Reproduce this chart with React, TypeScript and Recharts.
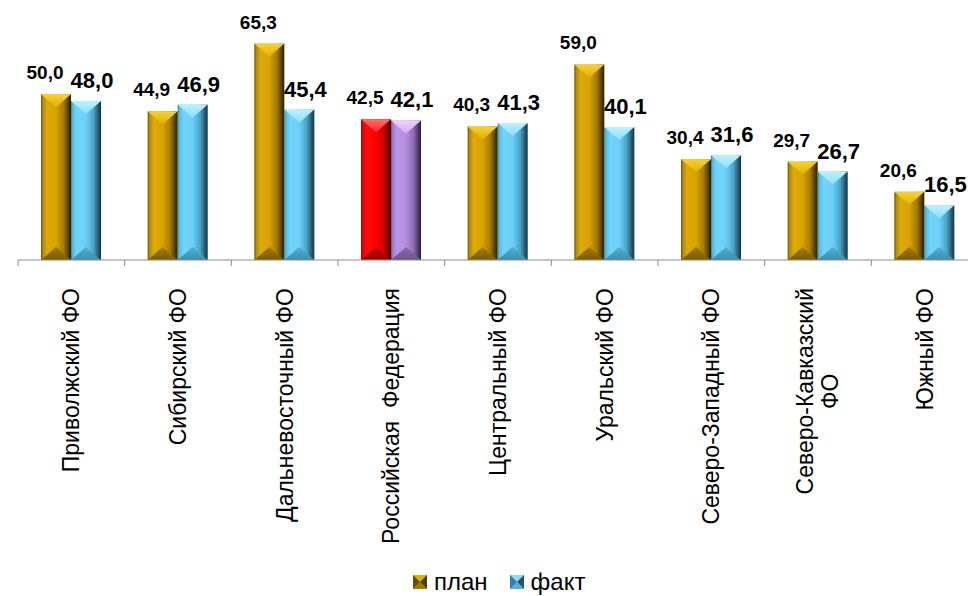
import React from 'react';
import { BarChart, Bar, XAxis, YAxis, LabelList } from 'recharts';

const regions = [
  'Приволжский ФО',
  'Сибирский ФО',
  'Дальневосточный ФО',
  'Российская  Федерация',
  'Центральный ФО',
  'Уральский ФО',
  'Северо-Западный ФО',
  'Северо-Кавказский\nФО',
  'Южный ФО',
];
const plan = [50.0, 44.9, 65.3, 42.5, 40.3, 59.0, 30.4, 29.7, 20.6];
const fact = [48.0, 46.9, 45.4, 42.1, 41.3, 40.1, 31.6, 26.7, 16.5];
const seriesNames = ['план', 'факт'];
const highlighted = 'Российская  Федерация';

const data = regions.map((name, i) => ({ name, plan: plan[i], fact: fact[i] }));

const FONT = '"Liberation Sans", Arial, sans-serif';
const CHART_W = 990;
const MARGIN = { top: 28, right: 12, left: 18, bottom: 0 };
const BAND = (CHART_W - MARGIN.left - MARGIN.right) / regions.length;

const palettes: Record<string, { body: string[]; top: string[]; bot: string[] }> = {
  gold: {
    body: ['#6b4f00', '#b58800', '#dcaa0c', '#d9a300', '#a57b00', '#4d3a00', '#2a1f00'],
    top: ['#f7d230', '#e2b000'],
    bot: ['#7a5c05', '#a07a08'],
  },
  blue: {
    body: ['#2d7fa3', '#56bfe8', '#72d4fb', '#6ccff8', '#4aa3c8', '#24566b', '#15323f'],
    top: ['#bdf1ff', '#8adfff'],
    bot: ['#3b8db0', '#55aed3'],
  },
  red: {
    body: ['#a00000', '#f00000', '#ff0a0a', '#ff0000', '#cc0000', '#700000', '#400000'],
    top: ['#ff7070', '#ff2a2a'],
    bot: ['#9a0000', '#c80000'],
  },
  purple: {
    body: ['#6c4f8c', '#a07ccc', '#bb95e8', '#b48ee0', '#8d6cb2', '#4a3860', '#2c2038'],
    top: ['#efd0ff', '#d3a8f5'],
    bot: ['#6b5088', '#8e6cb5'],
  },
};
const bodyOffsets = [0, 0.06, 0.2, 0.5, 0.75, 0.92, 1];

const fmt = (v: number) => v.toFixed(1).replace('.', ',');

let ctx: CanvasRenderingContext2D | null = null;
function textWidth(s: string, size: number) {
  if (!ctx) ctx = document.createElement('canvas').getContext('2d');
  if (!ctx) return s.length * size * 0.55;
  ctx.font = `${size}px ${FONT}`;
  return ctx.measureText(s).width;
}

function BevelBar(props: any) {
  const { x, y, width: w, height: h, palette } = props;
  if (!h || h <= 0) return null;
  const d = Math.min(13, h / 2);
  const mid = x + w / 2;
  return (
    <g>
      <rect x={x} y={y} width={w} height={h} fill={`url(#body-${palette})`} />
      <polygon points={`${x},${y} ${x + w},${y} ${mid},${y + d}`} fill={`url(#top-${palette})`} />
      <polygon
        points={`${x},${y + h} ${x + w},${y + h} ${mid},${y + h - d}`}
        fill={`url(#bot-${palette})`}
      />
    </g>
  );
}

function ValueLabel(props: any, dx: number, gap: number, size: number) {
  const { x, y, width, value } = props;
  return (
    <text
      x={x + width / 2 + dx}
      y={y - gap}
      textAnchor="middle"
      fontFamily={FONT}
      fontWeight="bold"
      fontSize={size}
      fill="#000"
    >
      {fmt(value)}
    </text>
  );
}

function RegionTick(props: any) {
  const { x, y, payload } = props;
  const axisY = y - 8;
  const size = 23;
  const lines = String(payload.value).split('\n');
  const top = axisY + 28;
  const lh = 25;
  const maxW = Math.max(...lines.map((l) => textWidth(l, size)));
  return (
    <g>
      <line x1={x - BAND / 2} y1={axisY} x2={x - BAND / 2} y2={axisY + 6} stroke="#8c8c8c" />
      {lines.map((l, i) => {
        const lx = x + (i - (lines.length - 1) / 2) * lh;
        const ly = lines.length > 1 ? top + maxW / 2 : top;
        return (
          <text
            key={i}
            x={lx}
            y={ly}
            transform={`rotate(-90, ${lx}, ${ly})`}
            textAnchor={lines.length > 1 ? 'middle' : 'end'}
            dominantBaseline="central"
            fontFamily={FONT}
            fontSize={size}
            fill="#000"
            style={{ whiteSpace: 'pre' }}
          >
            {l}
          </text>
        );
      })}
    </g>
  );
}

function LegendIcon({ palette }: { palette: string }) {
  const p = palettes[palette];
  return (
    <svg width={14} height={14} style={{ marginRight: 7 }}>
      <rect x={0} y={0} width={14} height={14} fill={p.body[3]} />
      <polygon points="0,0 14,0 7,7" fill={p.top[1]} />
      <polygon points="0,0 7,7 0,14" fill={p.body[0]} />
      <polygon points="14,0 7,7 14,14" fill={p.body[5]} />
      <polygon points="0,14 14,14 7,7" fill={p.bot[1]} />
    </svg>
  );
}

export default function App() {
  return (
    <div
      style={{
        position: 'absolute',
        left: 0,
        top: 0,
        width: 968,
        height: 596,
        overflow: 'hidden',
        background: '#fff',
      }}
    >
      <BarChart
        width={CHART_W}
        height={596}
        data={data}
        margin={MARGIN}
        barCategoryGap={23}
        barGap={0}
      >
        <defs>
          {Object.entries(palettes).map(([key, p]) => (
            <React.Fragment key={key}>
              <linearGradient id={`body-${key}`} x1="0" y1="0" x2="1" y2="0">
                {p.body.map((c, i) => (
                  <stop key={i} offset={bodyOffsets[i]} stopColor={c} />
                ))}
              </linearGradient>
              <linearGradient id={`top-${key}`} x1="0" y1="0" x2="0" y2="1">
                <stop offset="0" stopColor={p.top[0]} />
                <stop offset="1" stopColor={p.top[1]} />
              </linearGradient>
              <linearGradient id={`bot-${key}`} x1="0" y1="0" x2="0" y2="1">
                <stop offset="0" stopColor={p.bot[1]} />
                <stop offset="1" stopColor={p.bot[0]} />
              </linearGradient>
            </React.Fragment>
          ))}
        </defs>
        <XAxis
          dataKey="name"
          height={336}
          interval={0}
          tickLine={false}
          axisLine={{ stroke: '#8c8c8c' }}
          tick={<RegionTick />}
        />
        <YAxis hide domain={[0, 70]} />
        <Bar
          dataKey="plan"
          name={seriesNames[0]}
          isAnimationActive={false}
          shape={(p: any) => (
            <BevelBar {...p} palette={p.payload.name === highlighted ? 'red' : 'gold'} />
          )}
        >
          <LabelList dataKey="plan" content={(p: any) => ValueLabel(p, -11, 15, 19)} />
        </Bar>
        <Bar
          dataKey="fact"
          name={seriesNames[1]}
          isAnimationActive={false}
          shape={(p: any) => (
            <BevelBar {...p} palette={p.payload.name === highlighted ? 'purple' : 'blue'} />
          )}
        >
          <LabelList dataKey="fact" content={(p: any) => ValueLabel(p, 6, 13, 22)} />
        </Bar>
      </BarChart>
      <div
        style={{
          position: 'absolute',
          left: 413,
          top: 568,
          display: 'flex',
          alignItems: 'center',
          fontFamily: FONT,
          fontSize: 24,
          color: '#000',
        }}
      >
        <LegendIcon palette="gold" />
        <span style={{ marginRight: 22 }}>{seriesNames[0]}</span>
        <LegendIcon palette="blue" />
        <span>{seriesNames[1]}</span>
      </div>
    </div>
  );
}
